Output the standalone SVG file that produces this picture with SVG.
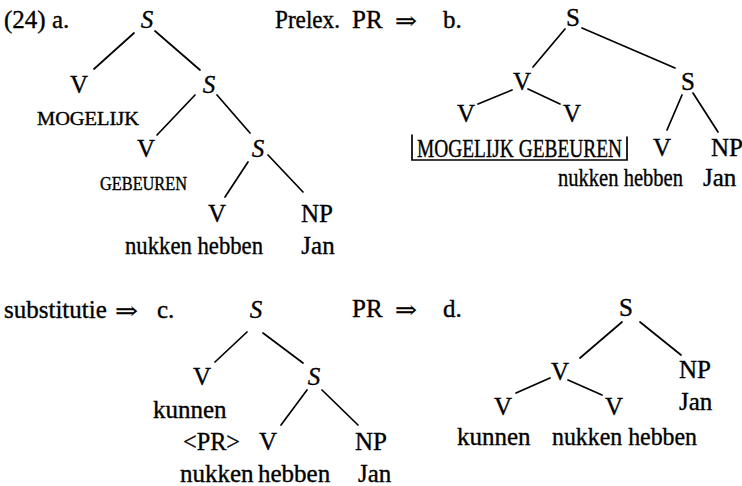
<svg xmlns="http://www.w3.org/2000/svg" width="742" height="486" viewBox="0 0 742 486">
  <style>
    text { font-family: "Liberation Serif", "DejaVu Serif", serif; font-size: 25px; fill: #000; stroke: #000; stroke-width: 0.35; }
    .n { text-anchor: middle; }
    .it { font-style: italic; }
    .sc { font-size: 18px; }
    .arr { font-family: "DejaVu Serif", "Liberation Serif", serif; font-size: 24px; stroke-width: 0.2; }
    .edge { stroke: #000; stroke-width: 1.7; fill: none; stroke-linecap: round; }
  </style>
  <rect width="742" height="486" fill="#fff"/>

  <!-- labels and transformation steps -->
  <g id="labels">
    <text x="4" y="28">(24) a.</text>
    <text x="275" y="28" font-size="22" textLength="65" lengthAdjust="spacingAndGlyphs">Prelex.</text>
    <text x="352" y="28">PR</text>
    <text class="arr" x="395" y="29" textLength="22" lengthAdjust="spacingAndGlyphs">⇒</text>
    <text x="443" y="28">b.</text>
    <text x="4" y="318">substitutie</text>
    <text class="arr" x="115" y="319" textLength="23" lengthAdjust="spacingAndGlyphs">⇒</text>
    <text x="157" y="318">c.</text>
    <text x="352" y="317">PR</text>
    <text class="arr" x="395" y="318" textLength="22" lengthAdjust="spacingAndGlyphs">⇒</text>
    <text x="443" y="317">d.</text>
  </g>

  <!-- tree connectors -->
  <g id="connectors" class="edge">
    <!-- tree a -->
    <line x1="134" y1="33" x2="94" y2="69"/>
    <line x1="155" y1="31" x2="200" y2="70"/>
    <line x1="195" y1="95" x2="157" y2="135"/>
    <line x1="217" y1="95" x2="250" y2="133"/>
    <line x1="248" y1="162" x2="225" y2="197"/>
    <line x1="268" y1="155" x2="303" y2="192"/>
    <!-- tree b -->
    <line x1="565" y1="29" x2="533" y2="67"/>
    <line x1="582" y1="28" x2="675" y2="68"/>
    <line x1="512" y1="90" x2="478" y2="104"/>
    <line x1="528" y1="89" x2="560" y2="104"/>
    <line x1="682" y1="95" x2="667" y2="130"/>
    <line x1="693" y1="93" x2="718" y2="132"/>
    <!-- tree c -->
    <line x1="247" y1="332" x2="215" y2="362"/>
    <line x1="263" y1="333" x2="303" y2="363"/>
    <line x1="307" y1="390" x2="281" y2="425"/>
    <line x1="322" y1="390" x2="358" y2="425"/>
    <!-- tree d -->
    <line x1="622" y1="322" x2="580" y2="358"/>
    <line x1="640" y1="322" x2="681" y2="355"/>
    <line x1="550" y1="378" x2="516" y2="393"/>
    <line x1="568" y1="380" x2="602" y2="395"/>
  </g>

  <!-- tree a -->
  <g id="a-S0"><text class="n it" x="147" y="28">S</text></g>
  <g id="a-V1"><text class="n" x="79" y="93">V</text>
    <text class="sc" x="37" y="125" textLength="102" lengthAdjust="spacingAndGlyphs">MOGELIJK</text></g>
  <g id="a-S1"><text class="n it" x="209" y="93">S</text></g>
  <g id="a-V2"><text class="n" x="146" y="157">V</text>
    <text class="sc" x="100" y="190" textLength="87" lengthAdjust="spacingAndGlyphs">GEBEUREN</text></g>
  <g id="a-S2"><text class="n it" x="258" y="157">S</text></g>
  <g id="a-V3"><text class="n" x="217" y="222">V</text>
    <text x="125" y="254" textLength="138" lengthAdjust="spacingAndGlyphs">nukken hebben</text></g>
  <g id="a-NP"><text class="n" x="317" y="222">NP</text>
    <text class="n" x="318" y="254">Jan</text></g>

  <!-- tree b -->
  <g id="b-S0"><text class="n" x="573" y="26">S</text></g>
  <g id="b-V1"><text class="n" x="522" y="90">V</text></g>
  <g id="b-S1"><text class="n" x="688" y="90">S</text></g>
  <g id="b-V2a"><text class="n" x="466" y="122">V</text></g>
  <g id="b-V2b"><text class="n" x="572" y="122">V</text></g>
  <g id="b-complex">
    <path class="edge" d="M412,135 V160 H627 V137" stroke-linecap="butt" stroke-width="1.3"/>
    <text x="417" y="157" font-size="22" textLength="205" lengthAdjust="spacingAndGlyphs">MOGELIJK GEBEUREN</text>
  </g>
  <g id="b-V3"><text class="n" x="662" y="156">V</text>
    <text x="558" y="186" font-size="23" textLength="125" lengthAdjust="spacingAndGlyphs">nukken hebben</text></g>
  <g id="b-NP"><text class="n" x="727" y="156">NP</text>
    <text x="703" y="186" font-size="24">Jan</text></g>

  <!-- tree c -->
  <g id="c-S0"><text class="n it" x="256" y="318">S</text></g>
  <g id="c-V1"><text class="n" x="202" y="385">V</text>
    <text x="153" y="418">kunnen</text></g>
  <g id="c-S1"><text class="n it" x="314" y="385">S</text></g>
  <g id="c-PR"><text x="183" y="450" textLength="57" lengthAdjust="spacingAndGlyphs">&lt;PR&gt;</text>
    <text x="180" y="482">nukken</text></g>
  <g id="c-V2"><text class="n" x="268" y="450">V</text>
    <text x="258" y="482">hebben</text></g>
  <g id="c-NP"><text class="n" x="371" y="450">NP</text>
    <text x="358" y="482">Jan</text></g>

  <!-- tree d -->
  <g id="d-S0"><text class="n" x="626" y="316">S</text></g>
  <g id="d-V1"><text class="n" x="560" y="380">V</text></g>
  <g id="d-NP"><text class="n" x="695" y="378">NP</text>
    <text x="679" y="410">Jan</text></g>
  <g id="d-V2a"><text class="n" x="503" y="415">V</text>
    <text x="457" y="445">kunnen</text></g>
  <g id="d-V2b"><text class="n" x="614" y="415">V</text>
    <text x="552" y="445" textLength="145" lengthAdjust="spacingAndGlyphs">nukken hebben</text></g>
</svg>
